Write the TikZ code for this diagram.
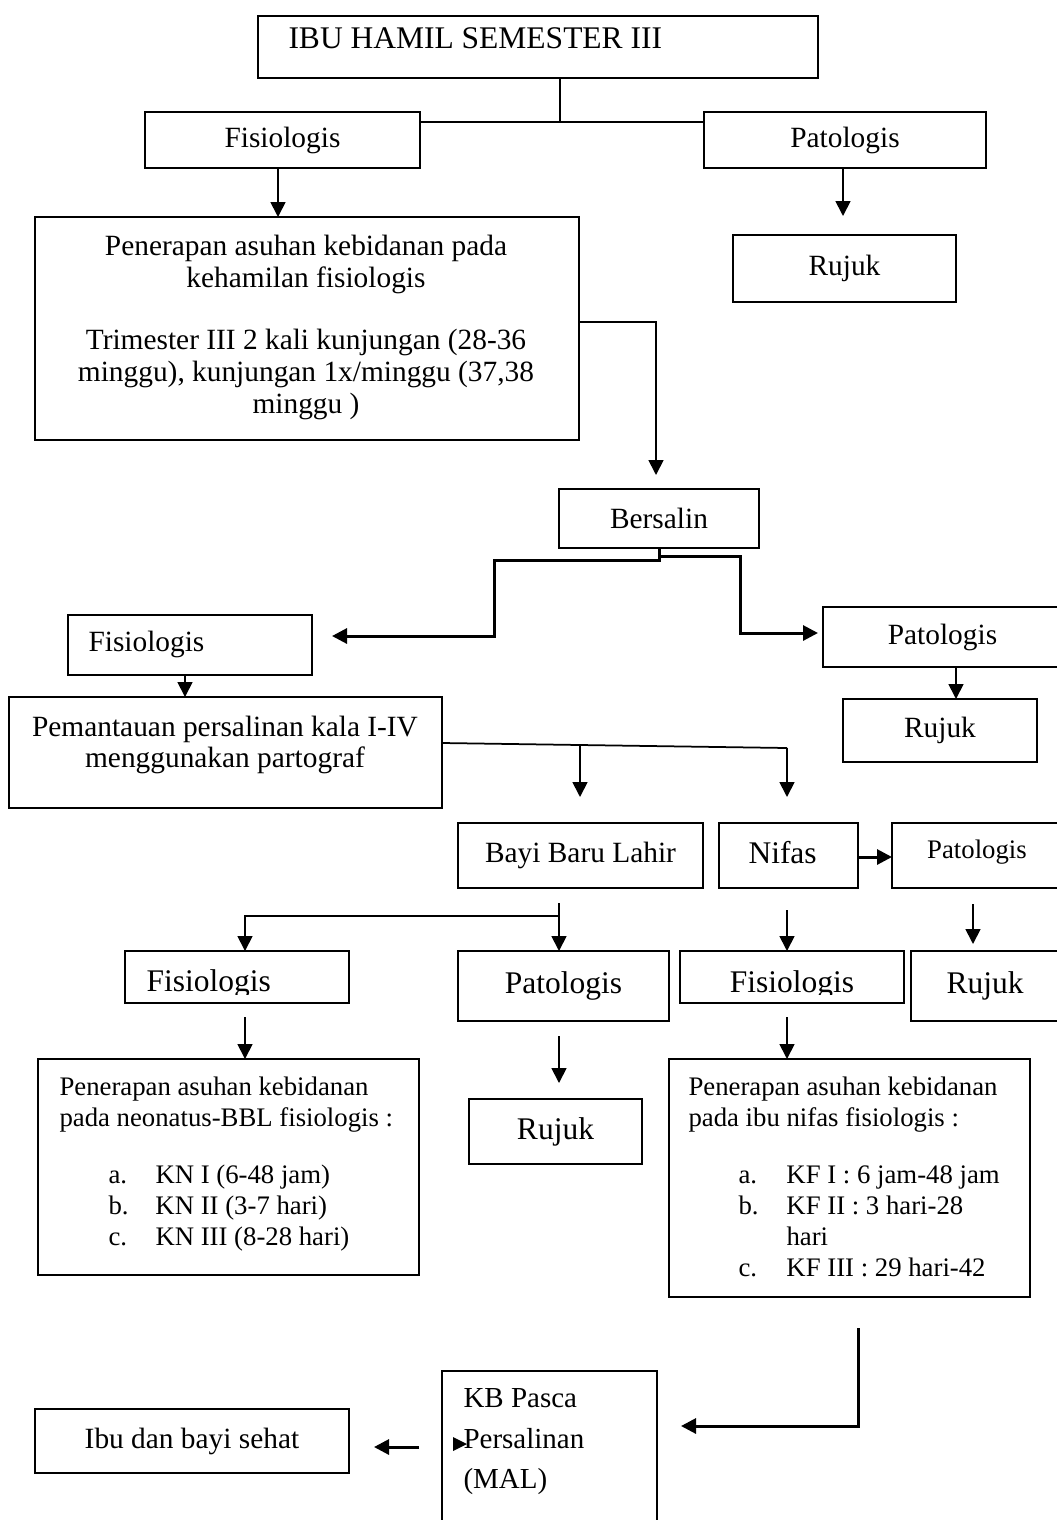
\documentclass[tikz,border=0pt]{standalone}
\usepackage{fontspec}
\setmainfont{Liberation Serif}
\usetikzlibrary{arrows.meta,fit}

\tikzset{
  box/.style={draw, line width=0.7pt, inner sep=0pt, outer sep=0pt},
  txt/.style={inner sep=0pt, font=\fontsize{11.75}{13.5}\selectfont},
  lbl/.style={txt, anchor=base west},
  big/.style={font=\fontsize{12.6}{14}\selectfont},
  small/.style={font=\fontsize{10.7}{12.4}\selectfont},
  arr/.style={line width=0.7pt, -{Triangle[length=6pt,width=6pt]}},
  arrT/.style={line width=1.2pt, -{Triangle[length=6pt,width=6pt]}},
}

\begin{document}
\begin{tikzpicture}[x=0.4pt,y=-0.4pt]
\useasboundingbox (0,0) rectangle (1057,1520);

% kehamilan
\node[box, fit={(258,16) (818,78)}] (ibu) {};
\node[lbl, big] (ibuT) at (288,48) {IBU HAMIL SEMESTER III};
\node[box, fit={(145,112) (420,168)}] (fis1) {};
\node[txt] (fis1T) at (fis1.center) {Fisiologis};
\node[box, fit={(704,112) (986,168)}] (pat1) {};
\node[txt] (pat1T) at (pat1.center) {Patologis};
\node[box, fit={(733,235) (956,302)}] (ruj1) {};
\node[txt] (ruj1T) at (ruj1.center) {Rujuk};
\node[box, fit={(35,217) (579,440)}] (keh) {};
\node[txt, anchor=north, align=center, font=\fontsize{11.75}{12.7}\selectfont] (kehT) at (306,235) {Penerapan asuhan kebidanan pada\\kehamilan fisiologis\\[12.1pt]Trimester III 2 kali kunjungan (28-36\\minggu), kunjungan 1x/minggu (37,38\\minggu )};
\coordinate (j1) at (560,122);
\draw[line width=0.7pt] (ibu.south -| j1) -- (j1);
\draw[line width=0.7pt] (fis1.east |- j1) -- (pat1.west |- j1);
\coordinate (a1) at (278,0);
\draw[arr] (fis1.south -| a1) -- (keh.north -| a1);
\coordinate (a2) at (843,0);
\draw[arr, shorten >=7.6pt] (pat1.south -| a2) -- (ruj1.north -| a2);

% persalinan
\node[box, fit={(559,489) (759,548)}] (bers) {};
\node[txt] (bersT) at (bers.center) {Bersalin};
\coordinate (j2) at (656,322);
\draw[arr, shorten >=5.6pt] (keh.east |- j2) -- (j2) -- (bers.north -| j2);
\node[box, fit={(68,615) (312,675)}] (fis2) {};
\node[lbl] (fis2T) at (88,651) {Fisiologis};
\node[box, fit={(823,607) (1062,667)}] (pat2) {};
\node[txt] (pat2T) at (pat2.center) {Patologis};
\node[box, fit={(843,699) (1037,762)}] (ruj2) {};
\node[txt] (ruj2T) at (ruj2.center) {Rujuk};
\coordinate (bl1) at (494,560);
\coordinate (bl2) at (494,636);
\coordinate (br1) at (740,556);
\coordinate (br2) at (740,633);
\draw[arrT, shorten >=8pt] (bers.south) |- (bl1) -- (bl2) -- (fis2.east |- bl2);
\draw[arrT, shorten >=2pt] (bers.south |- br1) -- (br1) -- (br2) -- (pat2.west |- br2);
\node[box, fit={(9,697) (442,808)}] (pem) {};
\node[txt, anchor=north, align=center, font=\fontsize{11.75}{12.4}\selectfont] (pemT) at (225,716) {Pemantauan persalinan kala I-IV\\menggunakan partograf};
\coordinate (a3) at (185,0);
\draw[arr] (fis2.south -| a3) -- (pem.north -| a3);
\coordinate (a4) at (956,0);
\draw[arr] (pat2.south -| a4) -- (ruj2.north -| a4);

% bayi dan nifas
\node[box, fit={(458,823) (703,888)}] (bayi) {};
\node[txt] (bayiT) at (bayi.center) {Bayi Baru Lahir};
\node[box, fit={(719,823) (858,888)}] (nif) {};
\node[lbl, big] (nifT) at (748,863) {Nifas};
\node[box, fit={(892,823) (1062,888)}] (pat3) {};
\node[txt, small, anchor=base] (pat3T) at (977,858) {Patologis};
\coordinate (pj) at (787,748);
\coordinate (pb) at (580,746);
\draw[line width=0.7pt] (pem.east |- 0,743) -- (pj);
\draw[arr, shorten >=10.4pt] (pb) -- (bayi.north -| pb);
\draw[arr, shorten >=10.4pt] (pj) -- (nif.north -| pj);
\draw[arrT] (nif.east |- 0,857) -- (pat3.west |- 0,857);

\node[box, fit={(125,951) (349,1003)}] (fis4) {};
\begin{scope}
\clip (125,951) rectangle (349,994);
\node[lbl, big] (fis4T) at (146,991) {Fisiologis};
\end{scope}
\node[box, fit={(458,951) (669,1021)}] (pat4) {};
\node[txt, big] (pat4T) at (pat4.center) {Patologis};
\node[box, fit={(680,951) (904,1003)}] (fis5) {};
\begin{scope}
\clip (680,951) rectangle (904,994);
\node[txt, big, anchor=base] (fis5T) at (792,992) {Fisiologis};
\end{scope}
\node[box, fit={(911,951) (1062,1021)}] (ruj3) {};
\node[txt, big] (ruj3T) at (985,986) {Rujuk};
\coordinate (bt) at (559,903);
\coordinate (fa) at (245,916);
\coordinate (na) at (787,0);
\coordinate (pa) at (973,0);
\draw[arr, shorten <=6pt] (bayi.south -| bt) -- (pat4.north -| bt);
\draw[arr] (bt |- fa) -- (fa) -- (fis4.north -| fa);
\draw[arr, shorten <=8.8pt] (nif.south -| na) -- (fis5.north -| na);
\draw[arr, shorten <=6.4pt, shorten >=2.8pt] (pat3.south -| pa) -- (ruj3.north -| pa);

% asuhan
\node[box, fit={(38,1059) (419,1275)}] (neo) {};
\node[txt, small, anchor=north west, align=left] (neoT) at (59,1076) {Penerapan asuhan kebidanan\\pada neonatus-BBL fisiologis :\\[10.4pt]\hspace*{19.6pt}\makebox[18.8pt][l]{a.}KN I (6-48 jam)\\ \hspace*{19.6pt}\makebox[18.8pt][l]{b.}KN II (3-7 hari)\\ \hspace*{19.6pt}\makebox[18.8pt][l]{c.}KN III (8-28 hari)};
\node[box, fit={(469,1099) (642,1164)}] (ruj4) {};
\node[txt, big] (ruj4T) at (ruj4.center) {Rujuk};
\node[box, fit={(669,1059) (1030,1297)}] (nfl) {};
\node[txt, small, anchor=north west, align=left] (nflT) at (688,1076) {Penerapan asuhan kebidanan\\pada ibu nifas fisiologis :\\[10.4pt]\hspace*{20pt}\makebox[19.2pt][l]{a.}KF I : 6 jam-48 jam\\ \hspace*{20pt}\makebox[19.2pt][l]{b.}KF II : 3 hari-28\\ \hspace*{39.2pt}hari\\ \hspace*{20pt}\makebox[19.2pt][l]{c.}KF III : 29 hari-42};
\coordinate (pr) at (559,0);
\draw[arr, shorten <=5.6pt] (fis4.south -| fa) -- (neo.north -| fa);
\draw[arr, shorten <=6pt, shorten >=6.4pt] (pat4.south -| pr) -- (ruj4.north -| pr);
\draw[arr, shorten <=5.6pt] (fis5.south -| na) -- (nfl.north -| na);

% KB
\node[box, fit={(442,1371) (657,1525)}] (kb) {};
\node[txt, anchor=north west, align=left, font=\fontsize{11.6}{16.2}\selectfont] (kbT) at (463,1388) {KB Pasca\\Persalinan\\(MAL)};
\fill (453,1437) -- (467,1444) -- (453,1451) -- cycle;
\node[box, fit={(35,1409) (349,1473)}] (ibs) {};
\node[txt] (ibsT) at (ibs.center) {Ibu dan bayi sehat};
\coordinate (kc) at (858,1426);
\coordinate (ka) at (0,1447);
\draw[arrT, shorten <=12.4pt, shorten >=9.6pt] (nfl.south -| kc) -- (kc) -- (kb.east |- kc);
\draw[arrT, shorten <=9.2pt, shorten >=10pt] (kb.west |- ka) -- (ibs.east |- ka);
\end{tikzpicture}
\end{document}
